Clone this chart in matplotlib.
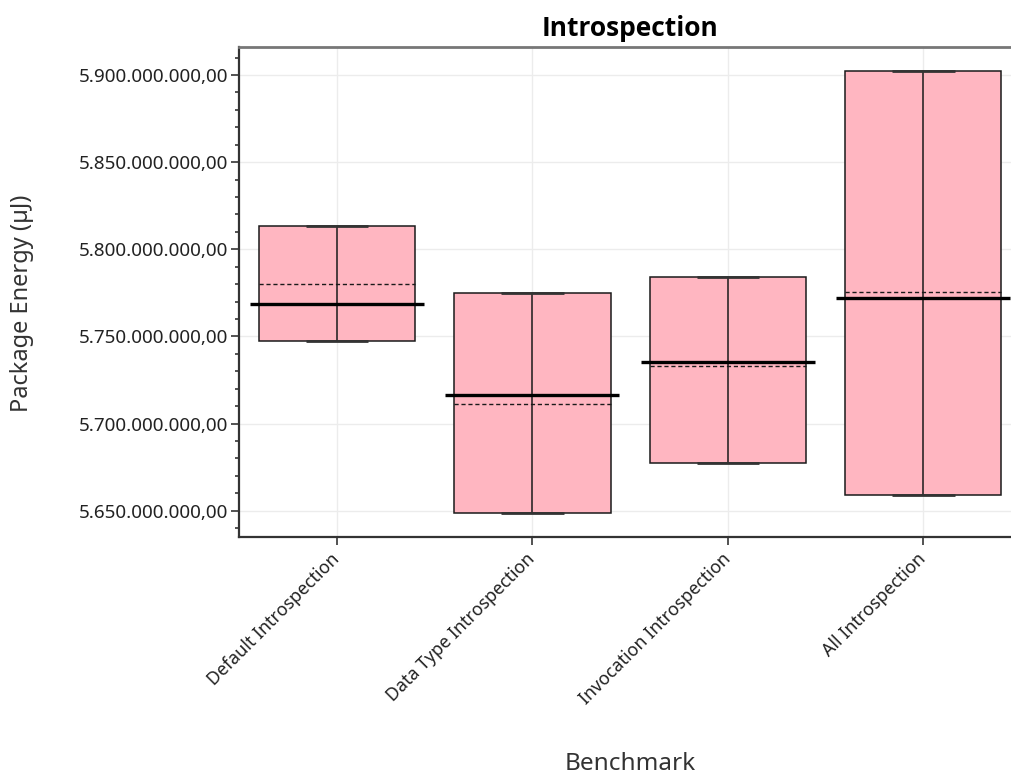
import matplotlib
matplotlib.use("Agg")
import matplotlib.pyplot as plt
from matplotlib.ticker import FuncFormatter, MultipleLocator

# Package energy per benchmark (µJ)
benchmarks = ["Default Introspection", "Data Type Introspection",
              "Invocation Introspection", "All Introspection"]
q1 = [5.7475e9, 5.6487e9, 5.6776e9, 5.6592e9]
q3 = [5.8134e9, 5.7747e9, 5.7839e9, 5.9023e9]
medians = [5.7688e9, 5.7165e9, 5.7351e9, 5.7720e9]
means = [5.7799e9, 5.7113e9, 5.7328e9, 5.7753e9]

plt.rcParams['font.family'] = ['Noto Sans', 'DejaVu Sans']

def german_fmt(v, pos):
	s = f"{v:,.2f}"
	return s.replace(',', '#').replace('.', ',').replace('#', '.')

fig = plt.figure(figsize=(10.11, 7.77), dpi=100)
ax = fig.add_axes([0.2367, 0.3093, 0.7732, 0.6306])

x = list(range(len(benchmarks)))
box_w = 0.8
med_w = 0.89
cap_w = 0.32

heights = [hi - lo for lo, hi in zip(q1, q3)]
ax.bar(x, heights, bottom=q1, width=box_w, color='#ffb6c1',
       edgecolor='#1a1a1a', linewidth=1.1, zorder=2)
ax.vlines(x, q1, q3, color='#1a1a1a', linewidth=1.1, zorder=3)
for xi, lo, hi, md, mn in zip(x, q1, q3, medians, means):
	ax.hlines([lo, hi], xi - cap_w / 2, xi + cap_w / 2, color='#333333',
	          linewidth=2.0, zorder=3)
	ax.hlines(mn, xi - box_w / 2, xi + box_w / 2, color='#1a1a1a',
	          linewidth=1.0, linestyles=(0, (3, 2)), zorder=3)
	ax.hlines(md, xi - med_w / 2, xi + med_w / 2, color='black',
	          linewidth=2.4, zorder=4)

#---- axes ----
ax.set_xlim(-0.5, 3.5)
ax.set_ylim(5.6351e9, 5.9162e9)
ax.set_xticks(x)
ax.set_xticklabels(benchmarks, rotation=45, ha='right', va='center',
                   rotation_mode='anchor', fontsize=12.8, color='#222222')
ax.yaxis.set_major_locator(MultipleLocator(5e7))
ax.yaxis.set_minor_locator(MultipleLocator(1e7))
ax.yaxis.set_major_formatter(FuncFormatter(german_fmt))
ax.tick_params(axis='y', which='major', length=6, width=1.3, labelsize=13.6,
               labelcolor='#222222', color='#444444', pad=2)
ax.tick_params(axis='y', which='minor', length=3, width=1.3, color='#444444')
ax.tick_params(axis='x', length=6, width=1.3, color='#444444', pad=8)
ax.grid(True, color='#ececec', linewidth=1.0, zorder=0)
ax.set_axisbelow(True)

for side in ['left', 'bottom']:
	ax.spines[side].set_color('#333333')
	ax.spines[side].set_linewidth(1.6)
ax.spines['top'].set_color('#777777')
ax.spines['top'].set_linewidth(2.0)
ax.spines['right'].set_visible(False)

ax.set_title("Introspection", fontsize=19, fontweight='bold', pad=8,
             family=['Open Sans', 'Lato', 'DejaVu Sans'])
ax.set_ylabel("Package Energy (µJ)", fontsize=17, color='#333333')
ax.set_xlabel("Benchmark", fontsize=17.5, color='#333333')
ax.yaxis.set_label_coords(-0.263, 0.477)
ax.xaxis.set_label_coords(0.5, -0.44)

fig.savefig("out.png", dpi=100)
